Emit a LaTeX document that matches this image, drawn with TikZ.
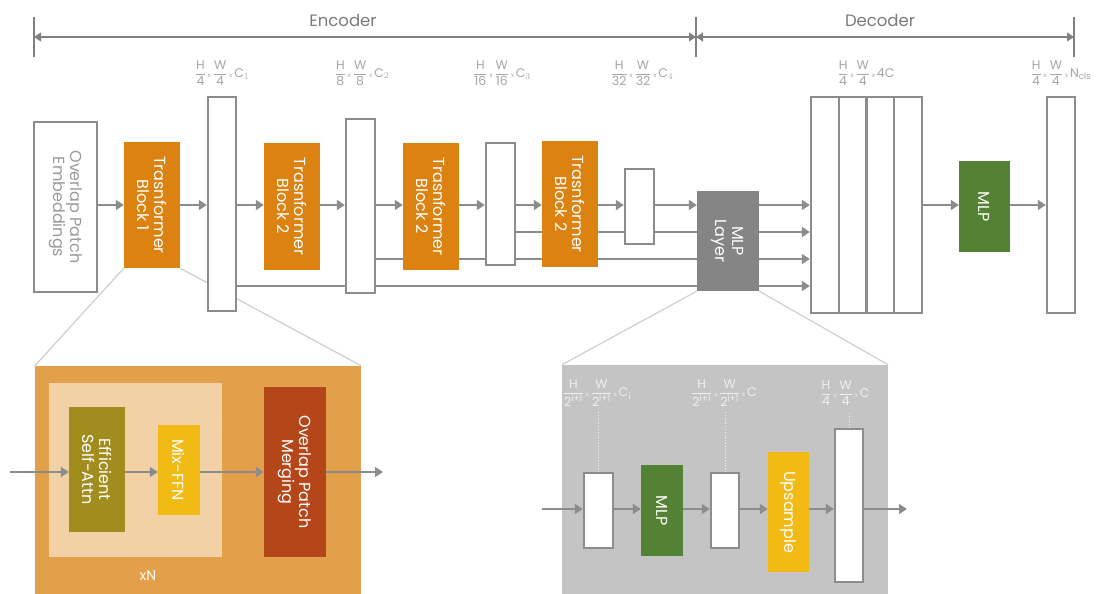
\documentclass[tikz,border=0pt]{standalone}
\usepackage{amsmath}
\usepackage{fontspec}
\setmainfont{Poppins}
\usetikzlibrary{arrows.meta}

\definecolor{boxgray}{HTML}{8C8C8C}
\definecolor{linegray}{HTML}{8C8C8C}
\definecolor{dimgray}{HTML}{808080}
\definecolor{labgray}{HTML}{A6A6A6}
\definecolor{txtgray}{HTML}{9A9A9A}
\definecolor{headgray}{HTML}{7A7A7A}
\definecolor{trorange}{HTML}{DB8210}
\definecolor{mlpgray}{HTML}{858585}
\definecolor{mlpgreen}{HTML}{548235}
\definecolor{outerorange}{HTML}{E3A04A}
\definecolor{innerlight}{HTML}{F3D1A6}
\definecolor{olive}{HTML}{A18C1E}
\definecolor{ffnyellow}{HTML}{F2BA14}
\definecolor{rust}{HTML}{B5461A}
\definecolor{panelgray}{HTML}{C4C4C4}
\definecolor{funnel}{HTML}{CFCFCF}
\definecolor{panellab}{HTML}{EFEFEF}

\pgfdeclarelayer{background}
\pgfsetlayers{background,main}

% tiny multiplication sign and tensor-shape labels
\newcommand{\tx}{\,\text{\fontsize{6}{6}\selectfont x}\,}
\newcommand{\shp}[3]{$\dfrac{\text{H}}{\text{#1}}\tx\dfrac{\text{W}}{\text{#2}}\tx\text{#3}$}

\tikzset{
  conn/.style={draw=linegray, line width=1.5pt, -{Triangle[length=8pt,width=10pt]}},
  plainline/.style={draw=linegray, line width=1.5pt},
  dimline/.style={draw=dimgray, line width=1.2pt},
  dimtip/.style={dimline, {Triangle[length=7pt,width=9pt]}-{Triangle[length=7pt,width=9pt]}},
  fmap/.style={draw=boxgray, line width=2.4pt, fill=white, inner sep=0pt},
  blockbox/.style={fill=#1, draw=none, inner sep=0pt},
  vtext/.style={rotate=-90, align=center, font=\fontsize{16}{17}\selectfont, text=white},
  shapelab/.style={font=\fontsize{12.5}{13}\selectfont, text=labgray, inner sep=0pt},
  funnelline/.style={draw=funnel, line width=1.2pt},
  head/.style={font=\fontsize{16.5}{18}\selectfont, text=headgray},
}

\begin{document}
\begin{tikzpicture}[x=1pt, y=-1pt]
\useasboundingbox (0,0) rectangle (1098,594);

% ---- encoder / decoder span ----
\coordinate (encL) at (34,37);
\coordinate (encR) at (696,37);
\coordinate (decR) at (1074,37);
\draw[dimline] (34,17) -- (34,57);
\draw[dimline] (696,17) -- (696,57);
\draw[dimline] (1074,17) -- (1074,57);
\draw[dimtip] (encL) -- (encR);
\draw[dimtip] (encR) -- (decR);
\node[head] (enc) at (343,20) {Encoder};
\node[head] (dec) at (880,20) {Decoder};

% ---- encoder row ----
\node[fmap, minimum width=63pt, minimum height=170pt] (emb) at (65.5,207) {};
\node[vtext, text=txtgray] at (emb) {Overlap Patch\\Embeddings};

\node[blockbox=trorange, minimum width=56pt, minimum height=126pt] (tb1) at (152,205) {};
\node[vtext] at (tb1) {Trasnformer\\Block 1};
\node[fmap, minimum width=28pt, minimum height=214pt] (r1) at (222,204) {};

\node[blockbox=trorange, minimum width=56pt, minimum height=127pt] (tb2) at (292,206.5) {};
\node[vtext] at (tb2) {Trasnformer\\Block 2};
\node[fmap, minimum width=29pt, minimum height=174pt] (r2) at (360.5,206) {};

\node[blockbox=trorange, minimum width=56pt, minimum height=127pt] (tb3) at (431,206.5) {};
\node[vtext] at (tb3) {Trasnformer\\Block 2};
\node[fmap, minimum width=29pt, minimum height=122pt] (r3) at (500.5,204) {};

\node[blockbox=trorange, minimum width=56pt, minimum height=126pt] (tb4) at (570,204) {};
\node[vtext] at (tb4) {Trasnformer\\Block 2};
\node[fmap, minimum width=29pt, minimum height=75pt] (r4) at (639.5,206.5) {};

\node[blockbox=mlpgray, minimum width=62pt, minimum height=100pt] (mlpl) at (728,241) {};
\node[vtext] at (mlpl) {MLP\\Layer};

% concatenated feature maps
\node[fmap, minimum width=27.75pt, minimum height=216pt] (c1) at (824.9,205) {};
\node[fmap, minimum width=27.75pt, minimum height=216pt] (c2) at (852.6,205) {};
\node[fmap, minimum width=27.75pt, minimum height=216pt] (c3) at (880.4,205) {};
\node[fmap, minimum width=27.75pt, minimum height=216pt] (c4) at (908.1,205) {};

\node[blockbox=mlpgreen, minimum width=51pt, minimum height=91pt] (mlp) at (984.5,206.5) {};
\node[vtext] at (mlp) {MLP};
\node[fmap, minimum width=28pt, minimum height=216pt] (out) at (1061,205) {};

% shape labels
\node[shapelab] (l1) at (222,73) {\shp{4}{4}{C$_1$}};
\node[shapelab] (l2) at (362,73) {\shp{8}{8}{C$_2$}};
\node[shapelab] (l3) at (502,73) {\shp{16}{16}{C$_3$}};
\node[shapelab] (l4) at (642,73) {\shp{32}{32}{C$_4$}};
\node[shapelab] (l5) at (866,73) {\shp{4}{4}{4C}};
\node[shapelab] (l6) at (1061,73) {\shp{4}{4}{N$_{\text{cls}}$}};

% main flow
\coordinate (ym) at (0,205);
\coordinate (ya) at (0,232);
\coordinate (yb) at (0,259);
\coordinate (yc) at (0,286);
\draw[conn] (emb.east |- ym) -- (tb1.west |- ym);
\draw[conn] (tb1.east |- ym) -- (r1.west |- ym);
\draw[conn] (r1.east |- ym) -- (tb2.west |- ym);
\draw[conn] (tb2.east |- ym) -- (r2.west |- ym);
\draw[conn] (r2.east |- ym) -- (tb3.west |- ym);
\draw[conn] (tb3.east |- ym) -- (r3.west |- ym);
\draw[conn] (r3.east |- ym) -- (tb4.west |- ym);
\draw[conn] (tb4.east |- ym) -- (r4.west |- ym);
\draw[conn] (r4.east |- ym) -- (mlpl.west |- ym);
\draw[conn] (mlpl.east |- ym) -- (c1.west |- ym);
\draw[conn] (mlpl.east |- ya) -- (c1.west |- ya);
\draw[conn] (mlpl.east |- yb) -- (c1.west |- yb);
\draw[conn] (mlpl.east |- yc) -- (c1.west |- yc);
\draw[conn] (c4.east |- ym) -- (mlp.west |- ym);
\draw[conn] (mlp.east |- ym) -- (out.west |- ym);

% ---- Transformer block detail ----
\node[blockbox=outerorange, minimum width=326pt, minimum height=228pt] (tbd) at (198,480) {};
\node[blockbox=innerlight, minimum width=173pt, minimum height=174pt] (rep) at (135.5,470) {};
\node[blockbox=olive, minimum width=56pt, minimum height=125pt] (esa) at (97,469.5) {};
\node[vtext] at (esa) {Efficient\\Self-Attn};
\node[blockbox=ffnyellow, minimum width=42pt, minimum height=90pt] (ffn) at (179,470) {};
\node[vtext] at (ffn) {Mix-FFN};
\node[blockbox=rust, minimum width=62pt, minimum height=170pt] (opm) at (295,472) {};
\node[vtext] at (opm) {Overlap Patch\\Merging};
\node[font=\fontsize{14}{16}\selectfont, text=white] (xn) at (148,576) {xN};

\coordinate (inL) at (10,472);
\coordinate (outL) at (383,472);
\draw[conn] (inL) -- (esa.west |- inL);
\draw[conn] (esa.east |- inL) -- (ffn.west |- inL);
\draw[conn] (ffn.east |- inL) -- (opm.west |- inL);
\draw[conn] (opm.east |- inL) -- (outL);

% ---- MLP layer detail ----
\node[blockbox=panelgray, minimum width=326pt, minimum height=229pt] (mld) at (725,479.5) {};
\node[fmap, minimum width=29pt, minimum height=75pt] (ra) at (598.5,510.5) {};
\node[blockbox=mlpgreen, minimum width=42pt, minimum height=91pt] (mlp2) at (662,510.5) {};
\node[vtext] at (mlp2) {MLP};
\node[fmap, minimum width=28pt, minimum height=75pt] (rb) at (725,510.5) {};
\node[blockbox=ffnyellow, minimum width=41pt, minimum height=120pt] (ups) at (788.5,512) {};
\node[vtext] at (ups) {Upsample};
\node[fmap, minimum width=28pt, minimum height=153pt] (rc) at (849,505.5) {};

\node[shapelab, text=panellab] (la) at (597,393) {\shp{2$^{\text{i+1}}$}{2$^{\text{i+1}}$}{C$_{\text{i}}$}};
\node[shapelab, text=panellab] (lb) at (724,393) {\shp{2$^{\text{i+1}}$}{2$^{\text{i+1}}$}{C}};
\node[shapelab, text=panellab] (lc) at (845,393) {\shp{4}{4}{C}};
\draw[draw=panellab, dotted, line width=0.8pt] (ra.north) -- (ra.north |- 0,412);
\draw[draw=panellab, dotted, line width=0.8pt] (rb.north) -- (rb.north |- 0,412);
\draw[draw=panellab, dotted, line width=0.8pt] (rc.north) -- (rc.north |- 0,412);

\coordinate (inR) at (542,509);
\coordinate (outR) at (907,509);
\draw[conn] (inR) -- (ra.west |- inR);
\draw[conn] (ra.east |- inR) -- (mlp2.west |- inR);
\draw[conn] (mlp2.east |- inR) -- (rb.west |- inR);
\draw[conn] (rb.east |- inR) -- (ups.west |- inR);
\draw[conn] (ups.east |- inR) -- (rc.west |- inR);
\draw[conn] (rc.east |- inR) -- (outR);

% ---- page background and lines running behind the boxes ----
\begin{pgfonlayer}{background}
\fill[white] (0,0) rectangle (1098,594);
\draw[plainline] (r1.east |- yc) -- (mlpl.west |- yc);
\draw[plainline] (r2.east |- yb) -- (mlpl.west |- yb);
\draw[plainline] (r3.east |- ya) -- (mlpl.west |- ya);
\draw[funnelline] (tb1.south west) -- (tbd.north west);
\draw[funnelline] (tb1.south east) -- (tbd.north east);
\draw[funnelline] (mlpl.south west) -- (mld.north west);
\draw[funnelline] (mlpl.south east) -- (mld.north east);
\end{pgfonlayer}
\end{tikzpicture}
\end{document}
